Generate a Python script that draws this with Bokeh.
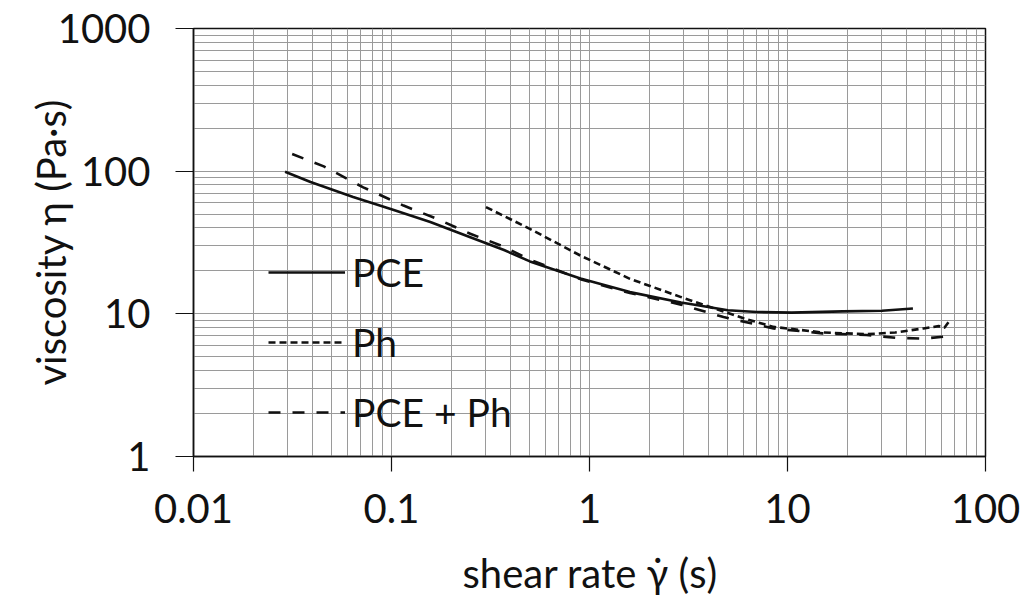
from bokeh.plotting import figure
from bokeh.models import Range1d, FixedTicker, CustomJSTickFormatter, Legend, LegendItem
from bokeh.embed import file_html
from bokeh.resources import INLINE

# Shear rate (1/s) and viscosity (Pa·s) for each mixture
pce_rate = [0.029, 0.039, 0.064, 0.10, 0.157, 0.25, 0.37, 0.50, 0.90, 1.6, 2.9, 5.0, 7.0, 10.5, 19, 30, 43]
pce_visc = [99, 84, 66, 54, 44, 34.4, 28, 23.3, 17.7, 14.2, 12.0, 10.6, 10.3, 10.2, 10.4, 10.5, 10.9]

ph_rate = [0.30, 0.50, 0.90, 1.6, 2.9, 4.2, 6.0, 8.5, 15, 25, 35, 48.6, 58, 62, 66.5]
ph_visc = [56, 39.4, 25.6, 17.6, 13.1, 11.0, 9.3, 8.1, 7.4, 7.2, 7.4, 7.9, 8.2, 8.0, 9.1]

mix_rate = [0.0315, 0.0455, 0.072, 0.115, 0.17, 0.25, 0.36, 0.5, 0.9, 1.6, 2.9, 4.75, 8.5, 15, 25, 35, 48.6, 66.5]
mix_visc = [132, 108, 77, 57.4, 46.3, 36.4, 30, 24, 17.5, 14.0, 11.6, 9.5, 7.9, 7.3, 7.1, 6.8, 6.7, 7.0]

x_decades = [0.01, 0.1, 1, 10, 100]
y_decades = [1, 10, 100, 1000]

FONT = "Lato"
INK = "#111111"
GRID = "#9a9a9a"

p = figure(width=1031, height=610, x_axis_type="log", y_axis_type="log",
           x_range=Range1d(0.01, 100), y_range=Range1d(1, 1000),
           output_backend="svg", toolbar_location=None,
           min_border_left=193, min_border_right=46,
           min_border_top=28, min_border_bottom=154)
p.background_fill_color = "white"
p.border_fill_color = "white"
p.outline_line_color = INK
p.outline_line_width = 1.5


def minor_between(decades):
    return [d * k for d in decades[:-1] for k in range(2, 10)]


fmt = CustomJSTickFormatter(code="return String(Number(tick.toPrecision(6)));")

xt = FixedTicker(ticks=x_decades, minor_ticks=minor_between(x_decades))
yt = FixedTicker(ticks=y_decades, minor_ticks=minor_between(y_decades))
p.xaxis.ticker = xt
p.yaxis.ticker = yt
p.xaxis.formatter = fmt
p.yaxis.formatter = fmt

for ax in (p.xaxis[0], p.yaxis[0]):
    ax.axis_line_color = INK
    ax.axis_line_width = 1.5
    ax.major_tick_line_color = INK
    ax.major_tick_line_width = 1.2
    ax.major_tick_in = 0
    ax.minor_tick_in = 0
    ax.minor_tick_out = 0
    ax.major_label_text_font = FONT
    ax.major_label_text_font_size = "40px"
    ax.major_label_text_color = INK
    ax.axis_label_text_font = FONT
    ax.axis_label_text_font_size = "40px"
    ax.axis_label_text_font_style = "normal"
    ax.axis_label_text_color = INK

p.xaxis.major_tick_out = 15
p.xaxis.major_label_standoff = 22
p.xaxis.axis_label = "shear rate \u03b3\u0307 (s)"
p.xaxis.axis_label_standoff = 23

p.yaxis.major_tick_out = 18
p.yaxis.major_label_standoff = 25
p.yaxis.axis_label = "viscosity \u03b7 (Pa\u00b7s)"
p.yaxis.axis_label_standoff = -20

for g in (p.xgrid[0], p.ygrid[0]):
    g.grid_line_color = GRID
    g.grid_line_width = 1
    g.minor_grid_line_color = GRID
    g.minor_grid_line_width = 1

r_pce = p.line(pce_rate, pce_visc, line_color=INK, line_width=2.6, line_join="round")
r_ph = p.line(ph_rate, ph_visc, line_color=INK, line_width=2.6, line_dash="7 4")
r_mix = p.line(mix_rate, mix_visc, line_color=INK, line_width=2.6, line_dash="12 12")

legend = Legend(items=[LegendItem(label="PCE", renderers=[r_pce]),
                       LegendItem(label="Ph", renderers=[r_ph]),
                       LegendItem(label="PCE + Ph", renderers=[r_mix])],
                location=(75, 21), orientation="vertical",
                glyph_width=77, glyph_height=40, label_height=40,
                label_standoff=7, spacing=24, padding=0, margin=0,
                border_line_color=None, background_fill_alpha=0,
                label_text_font=FONT, label_text_font_size="39px",
                label_text_color=INK)
p.add_layout(legend, "center")

open("out.html", "w").write(file_html(p, INLINE))
